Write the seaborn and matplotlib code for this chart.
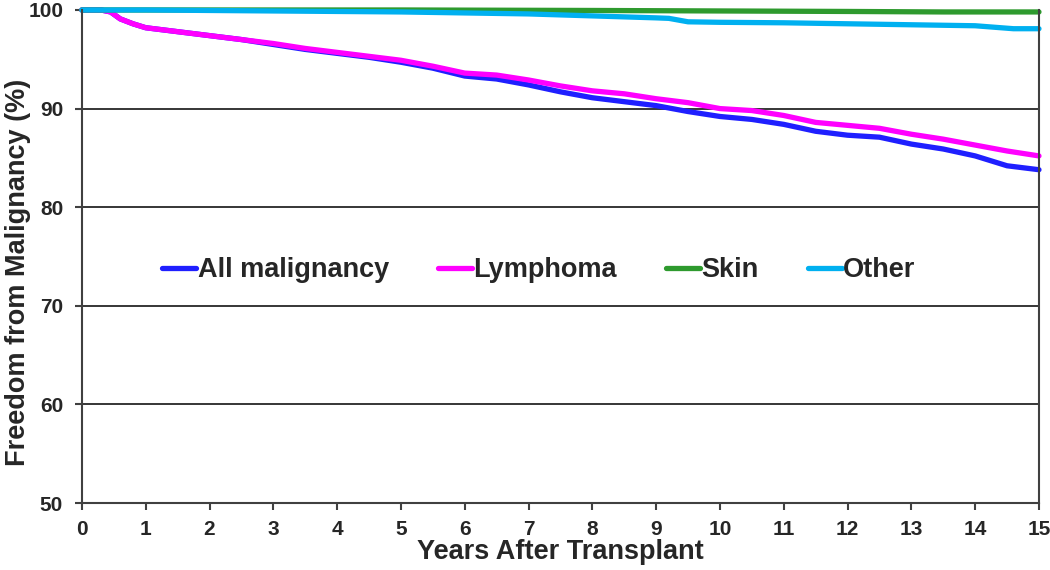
import pandas as pd
import matplotlib.pyplot as plt
import seaborn as sns

# freedom from malignancy (%)
years = [0, 0.3, 0.45, 0.6, 0.8, 1.0, 1.5, 2.0, 2.5, 3.0, 3.5, 4.0, 4.5, 5.0, 5.5, 6.0, 6.5,
         7.0, 7.5, 8.0, 8.5, 9.0, 9.5, 10.0, 10.5, 11.0, 11.5, 12.0, 12.5, 13.0, 13.5, 14.0,
         14.5, 15.0]
all_malignancy = [100, 100, 99.8, 99.1, 98.6, 98.2, 97.8, 97.4, 97.0, 96.5, 96.0, 95.6, 95.2,
                  94.7, 94.1, 93.3, 93.0, 92.4, 91.7, 91.1, 90.7, 90.3, 89.7, 89.2, 88.9, 88.4,
                  87.7, 87.3, 87.1, 86.4, 85.9, 85.2, 84.2, 83.8]
lymphoma = [100, 100, 99.8, 99.1, 98.6, 98.2, 97.8, 97.4, 97.0, 96.6, 96.1, 95.7, 95.3, 94.9,
            94.3, 93.6, 93.4, 92.9, 92.3, 91.8, 91.5, 91.0, 90.6, 90.0, 89.8, 89.3, 88.6, 88.3,
            88.0, 87.4, 86.9, 86.3, 85.7, 85.2]

skin_years = [0, 5, 8, 10, 12, 13.5, 15]
skin = [100, 100, 99.95, 99.9, 99.85, 99.8, 99.8]

other_years = [0, 1, 2, 3, 4, 5, 6, 7, 8, 9, 9.2, 9.5, 10, 11, 12, 13, 14, 14.4, 14.6, 15]
other = [100, 100, 99.95, 99.9, 99.85, 99.8, 99.7, 99.6, 99.4, 99.2, 99.15, 98.8, 98.75, 98.7,
         98.6, 98.5, 98.4, 98.2, 98.1, 98.1]

series_names = ["All malignancy", "Lymphoma", "Skin", "Other"]
colors = ["#1F1FFF", "#FF00FF", "#2E9A2E", "#00B0F0"]
x_ticks = list(range(0, 16))
y_ticks = [50, 60, 70, 80, 90, 100]

df = pd.concat([
    pd.DataFrame({"Years": years, "Freedom": all_malignancy, "Type": "All malignancy"}),
    pd.DataFrame({"Years": years, "Freedom": lymphoma, "Type": "Lymphoma"}),
    pd.DataFrame({"Years": skin_years, "Freedom": skin, "Type": "Skin"}),
    pd.DataFrame({"Years": other_years, "Freedom": other, "Type": "Other"}),
], ignore_index=True)

sns.set_style("white")
plt.rcParams["font.family"] = ["Liberation Sans", "DejaVu Sans"]
plt.rcParams["font.weight"] = "bold"

fig = plt.figure(figsize=(10.5, 5.7), dpi=100)
ax = fig.add_axes([0.078, 0.1175, 0.9115, 0.8650])

sns.lineplot(data=df, x="Years", y="Freedom", hue="Type", hue_order=series_names,
             palette=colors, linewidth=3.8, ax=ax, estimator=None, sort=True)
for line in ax.get_lines():
    line.set_clip_on(False)

ax.set_xlim(0, 15)
ax.set_ylim(50, 100)
ax.set_xticks(x_ticks)
ax.set_yticks(y_ticks)
ax.yaxis.grid(True, color="black", linewidth=1.1)
ax.set_axisbelow(True)

for side in ["left", "bottom", "right"]:
    ax.spines[side].set_color("#404040")
    ax.spines[side].set_linewidth(1.5)
ax.spines["top"].set_visible(False)

ax.tick_params(axis="both", direction="out", length=5, width=1.5, color="#404040",
               labelsize=15, bottom=True, left=True)
ax.tick_params(axis="x", pad=7)
ax.tick_params(axis="y", pad=8.5)
for lbl in ax.get_xticklabels() + ax.get_yticklabels():
    lbl.set_fontweight("bold")

ax.set_xlabel("Years After Transplant", fontsize=19.5, fontweight="bold", labelpad=0)
ax.set_ylabel("Freedom from Malignancy (%)", fontsize=19.5, fontweight="bold")
ax.yaxis.set_label_coords(-0.0535, 0.4685)

handles, labels = ax.get_legend_handles_labels()
ax.legend(handles, labels, loc="center", bbox_to_anchor=(0.4775, 0.472), ncol=4,
          frameon=False, handlelength=1.25, handletextpad=0.05, columnspacing=1.82,
          prop={"size": 19.5, "weight": "bold"})

fig.savefig("out.png", dpi=100)
plt.close(fig)
